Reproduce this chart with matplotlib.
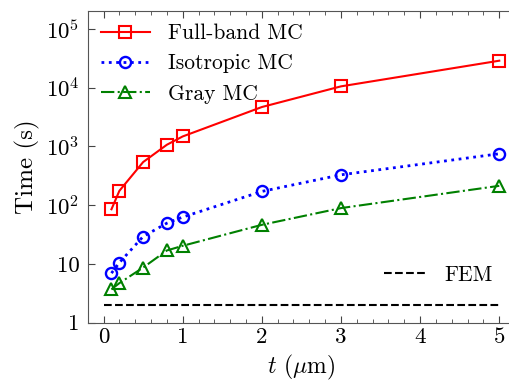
import numpy as np
import matplotlib
matplotlib.use("Agg")
import matplotlib.pyplot as plt
from matplotlib.ticker import MultipleLocator

plt.rcParams['font.family'] = 'cmr10'
plt.rcParams['mathtext.fontset'] = 'cm'
plt.rcParams['axes.unicode_minus'] = False
plt.rcParams['font.size'] = 16

t = [0.1, 0.2, 0.5, 0.8, 1.0, 2.0, 3.0, 5.0]
full_band = [85, 175, 540, 1065, 1475, 4670, 10500, 28700]
isotropic = [6.95, 10.5, 29.2, 49.3, 62.5, 171, 328, 748]
gray = [3.7, 4.7, 8.65, 16.9, 20.3, 46.2, 89, 213]
fem_t = [0.0, 5.0]
fem = [2.0, 2.0]

yticks = [1, 10, 100, 1000, 10000, 100000]
ylabels = ['1', '10', '$10^2$', '$10^3$', '$10^4$', '$10^5$']

fig = plt.figure(figsize=(5.1, 3.85), dpi=100)
ax = fig.add_axes([0.172, 0.162, 0.838, 0.81])

l1, = ax.plot(t, full_band, '-s', color='red', lw=1.5, ms=8, mfc='none', mew=1.5, label='Full-band MC')
l2, = ax.plot(t, isotropic, ':o', color='blue', lw=2, ms=8, mfc='none', mew=1.7, label='Isotropic MC')
l3, = ax.plot(t, gray, '-.^', color='green', lw=1.5, ms=8.5, mfc='none', mew=1.5, label='Gray MC')
l4, = ax.plot(fem_t, fem, '--', color='black', lw=1.5, label='FEM')

ax.set_yscale('log')
ax.set_ylim(1, 2.03e5)
ax.set_xlim(-0.2, 5.2)
ax.set_yticks(yticks)
ax.set_yticklabels(ylabels)
ax.yaxis.set_minor_locator(plt.NullLocator())
ax.xaxis.set_major_locator(MultipleLocator(1))
ax.xaxis.set_minor_locator(MultipleLocator(0.2))
ax.tick_params(which='both', direction='in', top=True, right=False, colors='#444444',
               labelcolor='black', labelsize=16.5)
ax.tick_params(which='major', length=5)
ax.tick_params(which='minor', length=3)
ax.tick_params(axis='y', pad=6)
for s in ax.spines.values():
    s.set_color('#555555')
ax.spines['right'].set_visible(False)

ax.set_xlabel(r'$t$ ($\mu$m)', fontsize=17)
ax.set_ylabel('Time (s)', fontsize=18)

leg1 = ax.legend(handles=[l1, l2, l3], loc='upper left', frameon=False, fontsize=15.5,
                 borderaxespad=0.2, handlelength=2.3, handletextpad=0.85, labelspacing=0.5)
ax.add_artist(leg1)
ax.legend(handles=[l4], loc='center left', bbox_to_anchor=(0.693, 0.153), frameon=False,
          fontsize=15.5, borderpad=0, borderaxespad=0, handlelength=2.0, handletextpad=0.8)

fig.savefig('out.png', dpi=100)
